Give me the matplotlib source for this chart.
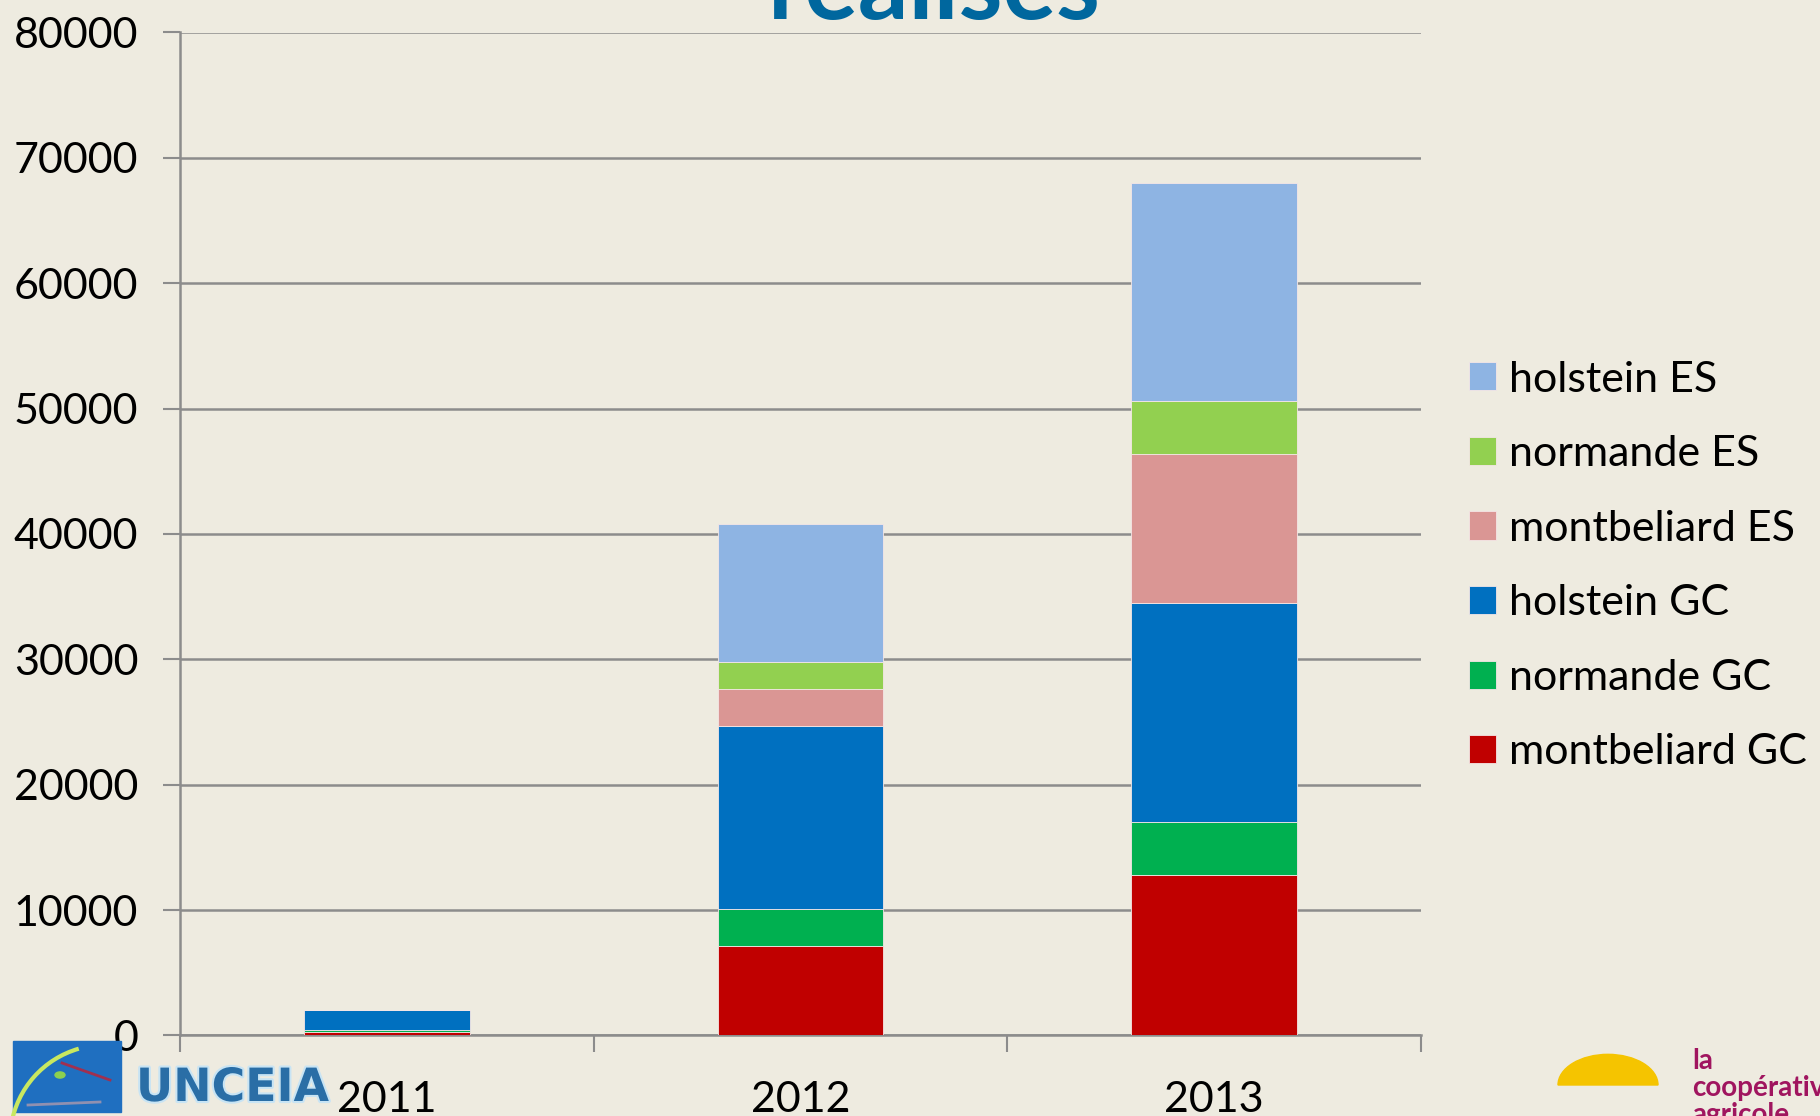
import matplotlib
matplotlib.use("Agg")
import matplotlib.pyplot as plt
from matplotlib.patches import Rectangle, Wedge, Arc, Circle
import matplotlib.patheffects as pe
import numpy as np

years = ["2011", "2012", "2013"]
series_names = ["montbeliard GC", "normande GC", "holstein GC",
                "montbeliard ES", "normande ES", "holstein ES"]
montbeliard_GC = [250, 7130, 12790]
normande_GC = [200, 2970, 4250]
holstein_GC = [1550, 14570, 17470]
montbeliard_ES = [0, 2950, 11880]
normande_ES = [0, 2130, 4210]
holstein_ES = [0, 11050, 17400]
series_values = [montbeliard_GC, normande_GC, holstein_GC,
                 montbeliard_ES, normande_ES, holstein_ES]
colors = ["#C00000", "#00B050", "#0070C0", "#DA9694", "#92D050", "#8EB4E3"]
yticks = [0, 10000, 20000, 30000, 40000, 50000, 60000, 70000, 80000]

plt.rcParams['font.family'] = ['Lato', 'DejaVu Sans']
bg = "#EEEBE0"
W, H = 1820, 1116
fig = plt.figure(figsize=(W / 100, H / 100), dpi=100, facecolor=bg)
ax = fig.add_axes([180 / W, 1 - 1035.4 / H, (1421 - 180) / W, (1035.4 - 32.5) / H])
ax.set_facecolor(bg)

x = np.arange(len(years))
bottom = np.zeros(len(years))
handles = []
for name, vals, c in zip(series_names, series_values, colors):
    b = ax.bar(x, vals, width=0.40, bottom=bottom, color=c, label=name,
               edgecolor="#f4e6e6", linewidth=0.6, zorder=3)
    handles.append(b)
    bottom += np.array(vals)

ax.set_xlim(-0.5, 2.5)
ax.set_ylim(0, 80000)
ax.set_yticks(yticks)
ax.set_yticklabels([str(v) for v in yticks], fontsize=31)
ax.set_xticks(x)
ax.set_xticklabels(years, fontsize=31)
ax.set_xticks([-0.5, 0.5, 1.5, 2.5], minor=True)
ax.tick_params(axis='x', which='major', length=0, pad=33)
ax.tick_params(axis='x', which='minor', length=12, width=1.5, color="#8c8c8c", direction='out')
ax.tick_params(axis='y', length=12, width=1.5, color="#8c8c8c", pad=18)
ax.yaxis.grid(True, color="#8c8c8c", linewidth=1.8, zorder=0)
ax.set_axisbelow(True)
for s in ['top', 'right']:
    ax.spines[s].set_visible(False)
for s in ['left', 'bottom']:
    ax.spines[s].set_color("#8c8c8c")
    ax.spines[s].set_linewidth(1.8)

leg = fig.legend(handles[::-1], series_names[::-1], loc='center left',
                 bbox_to_anchor=(1430 / W, 1 - 566 / H), frameon=False,
                 fontsize=31, handlelength=0.63, handleheight=0.63,
                 handletextpad=0.3, labelspacing=0.85)

# Title (partially cut off at top)
fig.text(934 / W, 1 - 19 / H, "réalisés", fontsize=72, fontweight='bold',
         color="#00679E", ha='center', va='baseline')

# Left logo (approximation)
fig.patches.append(Rectangle((13 / W, 1 - 1112 / H), 108 / W, 71 / H,
                             transform=fig.transFigure, color="#1F6FC0", zorder=5))
fig.patches.append(Arc((105 / W, 1 - 1140 / H), 190 / W, 190 / H, theta1=100, theta2=165,
                       transform=fig.transFigure, color="#C8E860", linewidth=3, zorder=6))
fig.patches.append(Circle((60 / W, 1 - 1075 / H), 5 / W, transform=fig.transFigure,
                          color="#8CD050", zorder=6))
fig.lines.append(plt.Line2D([62 / W, 110 / W], [1 - 1063 / H, 1 - 1080 / H],
                            transform=fig.transFigure, color="#A03050", linewidth=2, zorder=6))
fig.lines.append(plt.Line2D([28 / W, 100 / W], [1 - 1105 / H, 1 - 1102 / H],
                            transform=fig.transFigure, color="#9090B0", linewidth=2, zorder=6))
fig.text(136 / W, 1 - 1111 / H, "UNCEIA", fontsize=33, fontweight='bold',
         family='DejaVu Sans', color="#2A6EA6", ha='left', va='bottom', zorder=6,
         path_effects=[pe.withStroke(linewidth=3, foreground="#C8E4F4")])

# Right logo (approximation)
fig.patches.append(Wedge((1608 / W, 1 - 1085 / H), 50 / W, 0, 180,
                         transform=fig.transFigure, color="#F5C400", zorder=5))
fig.text(1692 / W, 1 - 1069 / H, "la", fontsize=20, fontweight='bold',
         color="#A0155F", ha='left', va='baseline')
fig.text(1692 / W, 1 - 1096 / H, "coopérative", fontsize=20, fontweight='bold',
         color="#A0155F", ha='left', va='baseline')
fig.text(1692 / W, 1 - 1123 / H, "agricole", fontsize=20, fontweight='bold',
         color="#A0155F", ha='left', va='baseline')

fig.savefig("out.png", dpi=100, facecolor=bg)
